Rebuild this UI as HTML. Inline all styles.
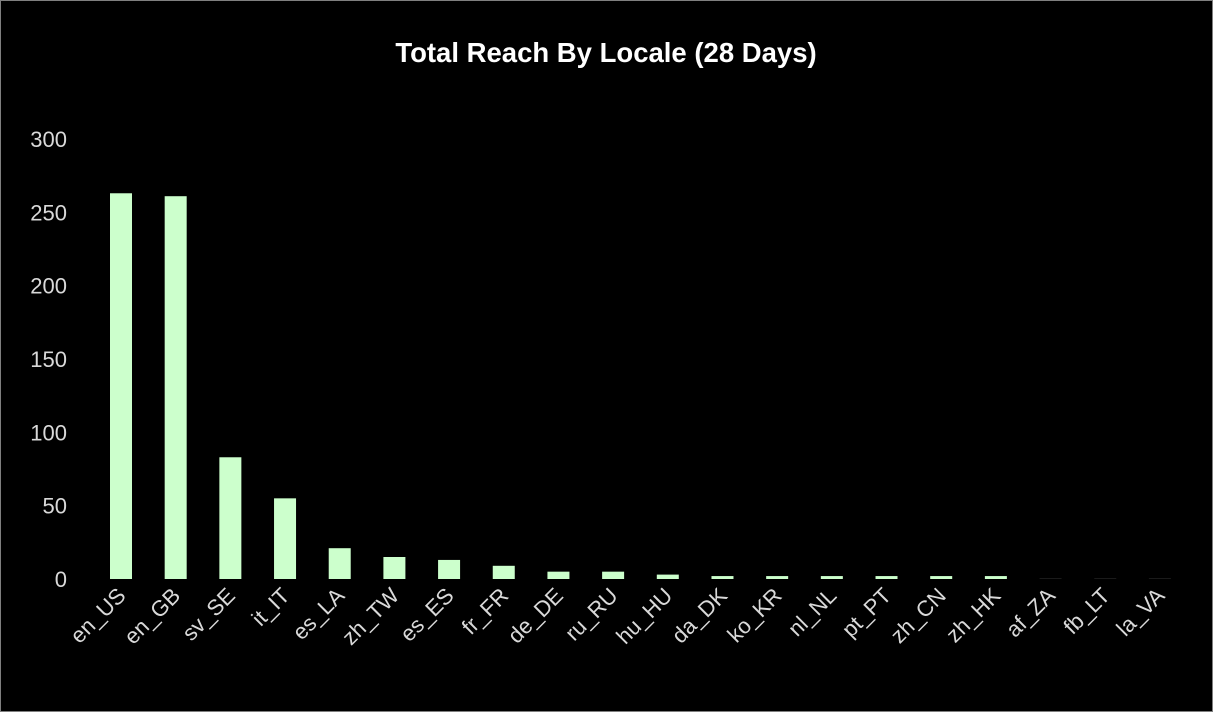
<!DOCTYPE html>
<html><head><meta charset="utf-8"><style>
html,body{margin:0;padding:0;background:#000;}
svg{display:block;font-family:"Liberation Sans",Calibri,sans-serif;}
</style></head><body>
<svg width="1213" height="712" id="c">
<rect x="0.5" y="0.5" width="1212" height="711" fill="#000" stroke="#7f7f7f"/>
<text x="606" y="62" text-anchor="middle" fill="#fff" font-size="27.5" font-weight="bold">Total Reach By Locale (28 Days)</text>
<g id="yaxis"></g>
<g id="bars"></g>
<g id="xaxis"></g>
</svg>
<script>
const categories=["en_US","en_GB","sv_SE","it_IT","es_LA","zh_TW","es_ES","fr_FR","de_DE","ru_RU","hu_HU","da_DK","ko_KR","nl_NL","pt_PT","zh_CN","zh_HK","af_ZA","fb_LT","la_VA"];
const values=[263,261,83,55,21,15,13,9,5,5,3,2,2,2,2,2,2,0.3,0.3,0.3];
const yTicks=[0,50,100,150,200,250,300];
const NS="http://www.w3.org/2000/svg";
const y0=579,yTop=139,yMax=300;
const y=v=>y0-(v/yMax)*(y0-yTop);
const x=i=>121+i*54.68;
const bw=22;
function mk(t,a,p){const e=document.createElementNS(NS,t);for(const k in a)e.setAttribute(k,a[k]);p.appendChild(e);return e;}
const ya=document.getElementById('yaxis'),bg=document.getElementById('bars'),xa=document.getElementById('xaxis');
yTicks.forEach(t=>{const e=mk('text',{x:67,y:y(t)+8,'text-anchor':'end',fill:'#d9d9d9','font-size':'22'},ya);e.textContent=t;

});
categories.forEach((c,i)=>{
const v=values[i];const h=Math.max(y0-y(v),0.5);
const r=mk('rect',{x:x(i)-bw/2,y:y0-h,width:bw,height:h,fill:v<1?'#333':'#ccffcc'},bg);


const t=mk('text',{x:x(i)+6,y:597,'text-anchor':'end',fill:'#d9d9d9','font-size':'22',transform:`rotate(-45 ${x(i)+6} 597)`},xa);
t.textContent=c;


});
</script>
</body></html>
